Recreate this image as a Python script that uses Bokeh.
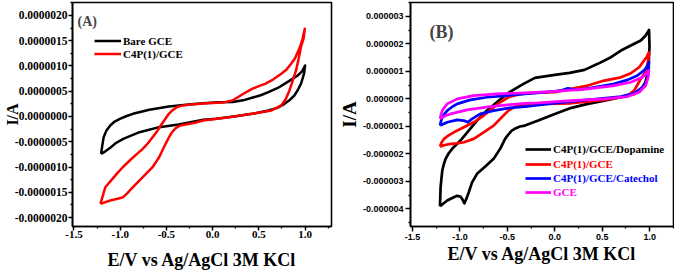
import numpy as np
from bokeh.plotting import figure
from bokeh.layouts import row
from bokeh.models import (Range1d, FixedTicker, CustomJSTickFormatter, Legend,
                          LegendItem, Label)
from bokeh.embed import file_html
from bokeh.resources import INLINE

SERIF = "Liberation Serif"
SANS = "Liberation Sans"

# ---------------- Panel A data (E in V, I in microampere) ----------------
a_bare_fwd_E = [-1.207, -1.200, -1.190, -1.179, -1.150, -1.108, -1.060, -1.003, -0.930, -0.862,
                -0.685, -0.474, -0.262, -0.103, 0.056, 0.214, 0.330, 0.426, 0.520, 0.603,
                0.700, 0.778, 0.860, 0.920, 0.970, 1.000]
a_bare_fwd_I = [-0.739, -0.65, -0.53, -0.41, -0.28, -0.178, -0.10, -0.046, 0.01, 0.053,
                0.133, 0.198, 0.238, 0.262, 0.280, 0.285, 0.32, 0.37, 0.42, 0.482,
                0.56, 0.647, 0.74, 0.812, 0.90, 1.01]
a_bare_rev_E = [0.990, 0.973, 0.955, 0.920, 0.884, 0.830, 0.778, 0.700, 0.603, 0.426, 0.249,
                0.038, -0.103, -0.156, -0.368, -0.579, -0.791, -0.967, -1.050, -1.108, -1.160, -1.207]
a_bare_rev_I = [0.86, 0.75, 0.647, 0.52, 0.416, 0.32, 0.251, 0.17, 0.119, 0.053, 0.006,
                -0.046, -0.066, -0.085, -0.158, -0.211, -0.311, -0.442, -0.53, -0.621, -0.69, -0.739]

a_c4p_fwd_E = [-1.214, -1.190, -1.161, -1.100, -1.038, -0.970, -0.897, -0.830, -0.756, -0.700,
               -0.650, -0.600, -0.561, -0.520, -0.474, -0.430, -0.386, -0.330, -0.262, -0.103,
               0.056, 0.108, 0.214, 0.320, 0.426, 0.500, 0.567, 0.638, 0.743, 0.800, 0.849,
               0.890, 0.920, 0.950, 0.973, 0.997]
a_c4p_fwd_I = [-1.73, -1.58, -1.40, -1.27, -1.135, -1.00, -0.871, -0.76, -0.64, -0.53,
               -0.41, -0.29, -0.178, -0.07, 0.053, 0.13, 0.185, 0.215, 0.232, 0.255,
               0.27, 0.275, 0.317, 0.436, 0.548, 0.60, 0.647, 0.713, 0.845, 0.93, 1.043,
               1.15, 1.274, 1.40, 1.538, 1.736]
a_c4p_rev_E = [0.985, 0.955, 0.930, 0.902, 0.865, 0.831, 0.790, 0.743, 0.638, 0.426, 0.179,
               -0.103, -0.191, -0.350, -0.400, -0.439, -0.475, -0.509, -0.579, -0.650, -0.756,
               -0.862, -0.930, -0.968, -1.040, -1.108, -1.214]
a_c4p_rev_I = [1.55, 1.373, 1.14, 0.911, 0.70, 0.515, 0.34, 0.218, 0.119, 0.053, -0.013,
               -0.079, -0.125, -0.178, -0.23, -0.311, -0.42, -0.541, -0.806, -1.004, -1.202,
               -1.40, -1.53, -1.598, -1.635, -1.663, -1.73]

# ---------------- Panel B data (E in V, I in microampere) ----------------
b_dop_fwd_E = [-1.210, -1.207, -1.204, -1.195, -1.186, -1.170, -1.151, -1.120, -1.082, -0.995,
               -0.907, -0.820, -0.715, -0.611, -0.506, -0.402, -0.330, -0.210, 0.000, 0.156,
               0.313, 0.453, 0.592, 0.697, 0.801, 0.906, 0.958, 0.993]
b_dop_fwd_I = [-3.91, -3.55, -3.22, -2.90, -2.61, -2.38, -2.185, -1.99, -1.82, -1.52,
               -1.156, -0.793, -0.429, -0.127, 0.178, 0.396, 0.54, 0.76, 0.87, 0.94,
               1.05, 1.27, 1.51, 1.753, 1.935, 2.116, 2.30, 2.505]
b_dop_rev_E = [0.998, 0.990, 0.975, 0.955, 0.923, 0.880, 0.836, 0.697, 0.522, 0.348, 0.174,
               0.000, -0.175, -0.315, -0.367, -0.410, -0.454, -0.490, -0.524, -0.576, -0.645,
               -0.733, -0.820, -0.872, -0.907, -0.930, -0.953, -0.975, -0.995, -1.030, -1.064,
               -1.134, -1.210]
b_dop_rev_I = [1.90, 1.30, 0.90, 0.60, 0.418, 0.28, 0.178, 0.055, -0.065, -0.186, -0.33,
               -0.55, -0.793, -0.975, -1.01, -1.07, -1.156, -1.30, -1.458, -1.82, -2.185,
               -2.465, -2.73, -3.04, -3.40, -3.62, -3.80, -3.65, -3.556, -3.53, -3.58,
               -3.70, -3.91]

b_c4p_fwd_E = [-1.210, -1.195, -1.168, -1.120, -1.064, -0.959, -0.855, -0.750, -0.663, -0.576,
               -0.489, -0.402, -0.297, -0.150, 0.000, 0.174, 0.348, 0.522, 0.697, 0.801,
               0.889, 0.941, 0.970, 0.993]
b_c4p_fwd_I = [-1.74, -1.60, -1.46, -1.33, -1.22, -1.036, -0.855, -0.61, -0.367, -0.127,
               0.055, 0.142, 0.20, 0.22, 0.24, 0.36, 0.48, 0.662, 0.78, 0.927,
               1.145, 1.39, 1.53, 1.69]
b_c4p_rev_E = [0.985, 0.965, 0.941, 0.906, 0.870, 0.836, 0.790, 0.732, 0.522, 0.174, -0.100,
               -0.315, -0.419, -0.489, -0.559, -0.645, -0.750, -0.855, -0.959, -1.030, -1.099,
               -1.160, -1.210]
b_c4p_rev_I = [1.40, 1.10, 0.90, 0.724, 0.50, 0.298, 0.17, 0.08, -0.04, -0.164, -0.19,
               -0.211, -0.284, -0.43, -0.673, -0.975, -1.218, -1.458, -1.58, -1.62, -1.64,
               -1.68, -1.74]

b_cat_fwd_E = [-1.210, -1.200, -1.186, -1.160, -1.134, -1.080, -1.029, -0.890, -0.715, -0.506,
               -0.315, 0.000, 0.080, 0.139, 0.190, 0.244, 0.418, 0.627, 0.767, 0.871, 0.941,
               0.975, 0.993]
b_cat_fwd_I = [-0.975, -0.82, -0.673, -0.54, -0.43, -0.29, -0.186, -0.04, 0.055, 0.116,
               0.178, 0.27, 0.32, 0.38, 0.34, 0.32, 0.418, 0.54, 0.687, 0.844, 1.03,
               1.18, 1.33]
b_cat_rev_E = [0.988, 0.976, 0.955, 0.923, 0.836, 0.697, 0.348, 0.000, -0.315, -0.472, -0.645,
               -0.786, -0.872, -0.917, -0.959, -1.029, -1.134, -1.210]
b_cat_rev_I = [1.05, 0.724, 0.55, 0.418, 0.20, 0.08, -0.04, -0.164, -0.284, -0.33, -0.43,
               -0.55, -0.73, -0.855, -0.793, -0.767, -0.855, -0.975]

b_gce_fwd_E = [-1.210, -1.200, -1.186, -1.160, -1.134, -1.029, -0.855, -0.611, -0.315, 0.000,
               0.348, 0.627, 0.801, 0.923, 0.993]
b_gce_fwd_I = [-0.73, -0.58, -0.43, -0.30, -0.186, -0.004, 0.116, 0.178, 0.214, 0.27,
               0.36, 0.48, 0.60, 0.78, 1.03]
b_gce_rev_E = [0.985, 0.958, 0.889, 0.767, 0.522, 0.174, -0.175, -0.315, -0.681, -0.925,
               -1.099, -1.160, -1.210]
b_gce_rev_I = [0.80, 0.48, 0.236, 0.08, -0.004, -0.065, -0.15, -0.164, -0.284, -0.404,
               -0.55, -0.63, -0.73]

# tick values
x_ticks = [-1.5, -1.0, -0.5, 0.0, 0.5, 1.0]
a_y_ticks_uA = [-2.0, -1.5, -1.0, -0.5, 0.0, 0.5, 1.0, 1.5, 2.0]
b_y_ticks_uA = [-4.0, -3.0, -2.0, -1.0, 0.0, 1.0, 2.0, 3.0]

legend_a = ["Bare GCE", "C4P(1)/GCE"]
legend_b = ["C4P(1)/GCE/Dopamine", "C4P(1)/GCE", "C4P(1)/GCE/Catechol", "GCE"]
colors_b = ["#000000", "#ff0000", "#0000ff", "#ff00ff"]

UA = 1e-6
H = 276
BOTTOM = 50


def loop(fE, fI, rE, rI):
    return np.array(fE + rE), np.array(fI + rI) * UA


def minor_between(ticks, step):
    t = np.array(ticks, dtype=float)
    return list(np.concatenate([t - step / 2, [t[-1] + step / 2]]))


def style(p, tick_font, tick_size, ylabel_size, tick_out):
    p.outline_line_color = "black"
    p.outline_line_width = 1.6
    p.outline_line_alpha = 1.0
    p.grid.visible = False
    p.background_fill_color = "white"
    p.border_fill_color = "white"
    for ax in (p.xaxis[0], p.yaxis[0]):
        ax.axis_line_width = 1.6
        ax.major_tick_line_width = 1.5
        ax.minor_tick_line_width = 1.3
        ax.major_tick_out = tick_out
        ax.major_tick_in = 0
        ax.minor_tick_out = 2
        ax.minor_tick_in = 0
        ax.major_label_text_font = tick_font
        ax.major_label_text_font_style = "bold"
        ax.major_label_text_font_size = tick_size
        ax.major_label_text_color = "black"
        ax.axis_label_text_font = SERIF
        ax.axis_label_text_font_style = "bold"
        ax.axis_label_text_color = "black"
    p.xaxis[0].axis_label_text_font_size = "18px"
    p.yaxis[0].axis_label_text_font_size = ylabel_size


# ---------------- Panel A ----------------
pA = figure(width=335, height=H, x_range=Range1d(-1.516, 1.286),
            y_range=Range1d(-2.178e-6, 2.257e-6), output_backend="svg",
            toolbar_location=None, min_border_left=66, min_border_right=4,
            min_border_top=2, min_border_bottom=BOTTOM,
            x_axis_label="E/V vs Ag/AgCl 3M KCl", y_axis_label="I/A")
style(pA, SERIF, "11.5px", "16px", 4)
pA.xaxis[0].major_label_text_font_size = "11px"
pA.xaxis[0].major_label_standoff = 0
pA.xaxis[0].axis_label_standoff = 9
pA.yaxis[0].major_label_standoff = 1
pA.yaxis[0].axis_label_standoff = -9
pA.xaxis[0].ticker = FixedTicker(ticks=x_ticks, minor_ticks=minor_between(x_ticks, 0.5))
pA.xaxis[0].formatter = CustomJSTickFormatter(code="return tick.toFixed(1)")
ya = [v * UA for v in a_y_ticks_uA]
pA.yaxis[0].ticker = FixedTicker(ticks=ya, minor_ticks=minor_between(ya, 0.5 * UA))
pA.yaxis[0].formatter = CustomJSTickFormatter(code="return tick.toFixed(7)")

ex, iy = loop(a_bare_fwd_E, a_bare_fwd_I, a_bare_rev_E, a_bare_rev_I)
rA1 = pA.line(ex, iy, line_color="black", line_width=2.5, line_join="round")
ex, iy = loop(a_c4p_fwd_E, a_c4p_fwd_I, a_c4p_rev_E, a_c4p_rev_I)
rA2 = pA.line(ex, iy, line_color="#ff0000", line_width=2.5, line_join="round")

legA = Legend(items=[LegendItem(label=legend_a[0], renderers=[rA1]),
                     LegendItem(label=legend_a[1], renderers=[rA2])],
              location=(22, 166), glyph_width=27, glyph_height=13, label_height=13,
              label_standoff=2, padding=0, spacing=0, margin=0,
              border_line_color=None, background_fill_alpha=0,
              label_text_font=SERIF, label_text_font_style="bold",
              label_text_font_size="11px", label_text_color="black")
pA.add_layout(legA)
pA.add_layout(Label(x=5, y=205, x_units="screen", y_units="screen", text="(A)",
                    text_font=SERIF, text_font_style="bold", text_font_size="14px",
                    text_baseline="alphabetic"))

# ---------------- Panel B ----------------
pB = figure(width=339, height=H, x_range=Range1d(-1.521, 1.251),
            y_range=Range1d(-4.644e-6, 3.5e-6), output_backend="svg",
            toolbar_location=None, min_border_left=73, min_border_right=1,
            min_border_top=2, min_border_bottom=BOTTOM,
            x_axis_label="E/V vs Ag/AgCl 3M KCl", y_axis_label="I/A")
style(pB, SANS, "9px", "19px", 5)
pB.xaxis[0].major_label_standoff = 2
pB.xaxis[0].axis_label_standoff = 1
pB.yaxis[0].major_label_standoff = 2
pB.yaxis[0].axis_label_standoff = 0
pB.xaxis[0].ticker = FixedTicker(ticks=x_ticks, minor_ticks=minor_between(x_ticks, 0.5))
pB.xaxis[0].formatter = CustomJSTickFormatter(code="return tick.toFixed(1)")
yb = [v * UA for v in b_y_ticks_uA]
pB.yaxis[0].ticker = FixedTicker(ticks=yb, minor_ticks=minor_between(yb, 1.0 * UA))
pB.yaxis[0].formatter = CustomJSTickFormatter(code="return tick.toFixed(6)")

b_sets = [(b_dop_fwd_E, b_dop_fwd_I, b_dop_rev_E, b_dop_rev_I),
          (b_c4p_fwd_E, b_c4p_fwd_I, b_c4p_rev_E, b_c4p_rev_I),
          (b_cat_fwd_E, b_cat_fwd_I, b_cat_rev_E, b_cat_rev_I),
          (b_gce_fwd_E, b_gce_fwd_I, b_gce_rev_E, b_gce_rev_I)]
rB = []
for s, c in zip(b_sets, colors_b):
    ex, iy = loop(*s)
    rB.append(pB.line(ex, iy, line_color=c, line_width=2.7, line_join="round"))

leg_y = [70, 55, 41, 27]
for r, lab, c, vy in zip(rB, legend_b, colors_b, leg_y):
    lg = Legend(items=[LegendItem(label=lab, renderers=[r])], location=(115, vy),
                glyph_width=26, glyph_height=14, label_height=14, label_standoff=2,
                padding=0, spacing=0, margin=0, border_line_color=None,
                background_fill_alpha=0, label_text_font=SERIF,
                label_text_font_style="bold", label_text_font_size="11px",
                label_text_color=c)
    pB.add_layout(lg)
pB.add_layout(Label(x=19, y=195, x_units="screen", y_units="screen", text="(B)",
                    text_font=SERIF, text_font_style="bold", text_font_size="18px",
                    text_baseline="alphabetic"))

layout = row(pA, pB)
open("out.html", "w").write(file_html(layout, INLINE))
